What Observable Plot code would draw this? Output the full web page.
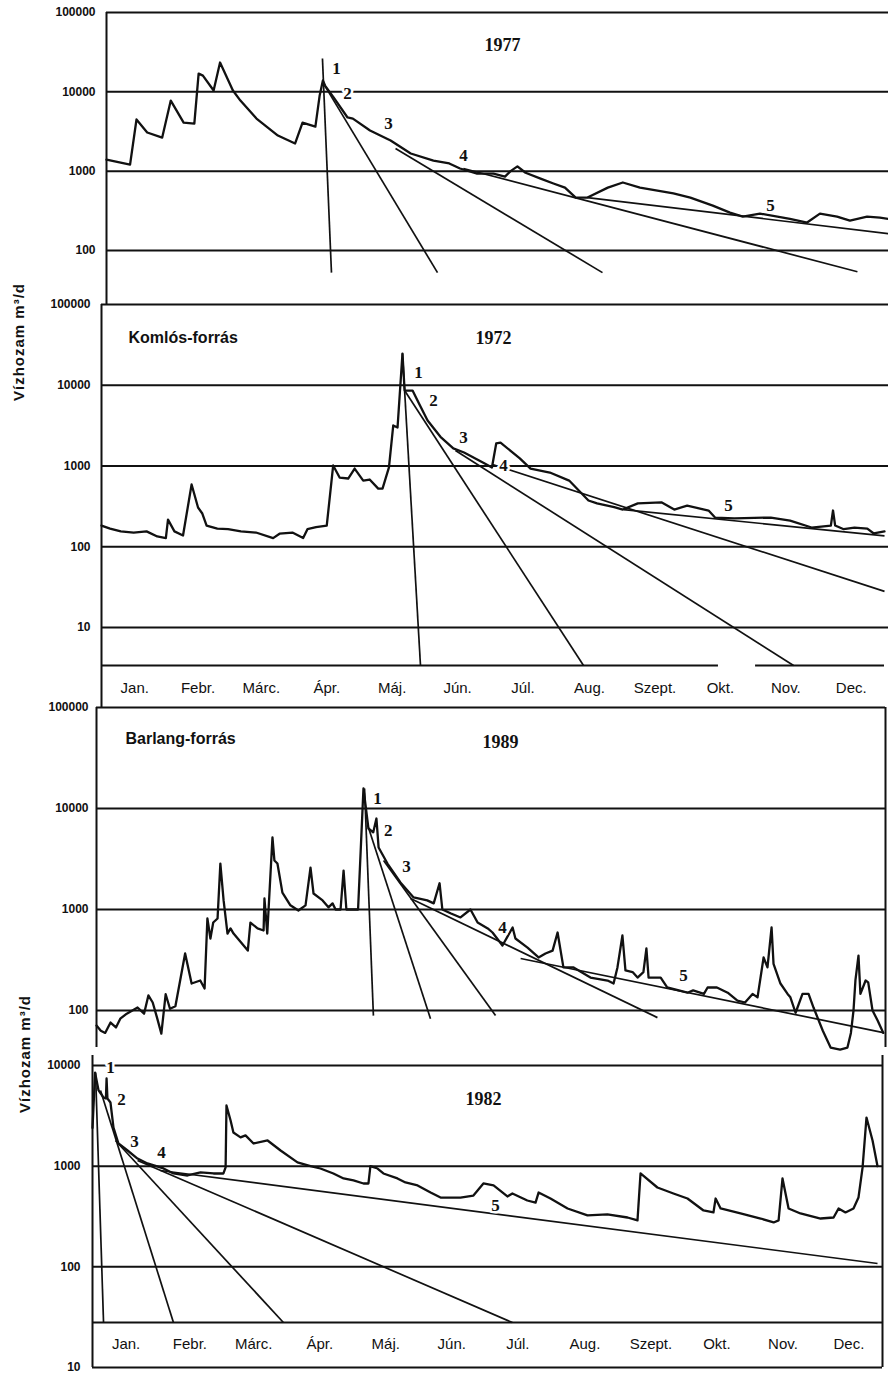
<!DOCTYPE html>
<html><head><meta charset="utf-8">
<script src="https://cdn.jsdelivr.net/npm/d3@7"></script>
<script src="https://cdn.jsdelivr.net/npm/@observablehq/plot@0.6"></script>
<style>
html,body{margin:0;padding:0;background:#fff;}
#chart{position:relative;width:888px;height:1373px;overflow:hidden;background:#fff;}
#chart svg{position:absolute;left:0;}
.ytitle{position:absolute;font:bold 15px "Liberation Sans",Arial,sans-serif;letter-spacing:1px;transform:translate(-50%,-50%) rotate(-90deg);white-space:nowrap;color:#111}
</style></head><body><div id="chart"></div>
<script>
// ---------- DATA ----------
const months = ["Jan.","Febr.","Márc.","Ápr.","Máj.","Jún.","Júl.","Aug.","Szept.","Okt.","Nov.","Dec."];
const monthMid = [15.5,45,74.5,105,135.5,166,196.5,227.5,258,288.5,319,349.5];

const ticks1977 = [100,1000,10000,100000];
const ticks1972 = [10,100,1000,10000,100000];
const ticks1989 = [100,1000,10000,100000];
const ticks1982 = [10,100,1000,10000];

// hydrographs: [day of year, discharge m3/d]
const q1977 = [[0,1400],[11,1210],[14,4480],[19,3070],[26,2650],[30,7760],[36,4100],[41,3980],[43,17000],[45,16000],[50,10400],[53,23400],[59,10400],[62.5,7760],[70,4600],[80,2810],[88,2230],[91.5,4100],[97.5,3650],[99.5,9000],[101,13900],[102,12000],[106,8500],[112.5,4750],[115,4600],[123,3250],[132.6,2430],[142,1670],[152.6,1360],[160,1250],[165,1080],[173,930],[180.6,930],[186,855],[188.6,1000],[191.8,1150],[195.6,955],[202.6,807],[208.6,700],[214,620],[219,465],[224.5,465],[234,620],[241,720],[249,620],[264.6,525],[272.5,465],[283,368],[291,300],[297,268],[305,292],[319,250],[327,225],[333,292],[341,268],[347,238],[355,268],[361,260],[365,250]];

const q1972 = [[0,183],[4,168],[9,155],[15,150],[21,155],[26,134],[30,128],[31,217],[34,155],[38,138],[42,590],[45,306],[47,258],[49,183],[54,168],[59,165],[65,155],[72,150],[80,128],[83,145],[89,150],[94,128],[96,165],[100,175],[105,183],[108,1015],[111,720],[115,700],[118,930],[122,660],[125,680],[129,525],[131,525],[134,960],[136,3180],[138,3000],[140.3,24700],[141.3,8600],[145,8600],[148,5940],[152,3660],[158,2300],[164,1650],[169,1470],[178,1100],[182,960],[184,1900],[186,1950],[195,1240],[200,930],[209,830],[218,660],[227,374],[231,344],[239,310],[243,289],[250,344],[261,355],[267,289],[273,323],[283,281],[286,230],[295,225],[312,230],[321,211],[331,173],[340,183],[341,281],[342,183],[346,165],[351,173],[357,168],[360,146],[365,155]];

const q1989 = [[0,71],[2,63],[4,60],[6.5,76],[9,68],[11,83],[14,93],[19,107],[22,93],[24,141],[26,120],[28,85],[30,59],[32,145],[34,104],[36.5,110],[41,367],[44,185],[48,198],[50,165],[51.3,815],[52.7,516],[54,743],[56,815],[57.3,2850],[58.8,1230],[60.6,578],[62,650],[63.4,578],[70,392],[71.2,743],[74.5,650],[77.3,620],[77.7,1285],[79,578],[81.4,5170],[82.3,3060],[83.7,2850],[86,1470],[89.7,1100],[93.4,977],[96.7,1100],[99,2600],[100.4,1440],[104.6,1230],[107.3,1050],[109.2,1150],[110.6,1000],[112.9,1000],[114.3,2430],[115.6,1000],[121,1000],[123.5,15800],[125.8,6340],[128,5800],[129.5,7960],[130.5,4110],[134.6,2850],[140.6,1850],[146.7,1315],[153,1230],[156,1150],[158.7,1820],[160,1000],[164,912],[168.4,834],[173,1000],[176.3,743],[181,650],[183.2,592],[187.8,440],[192.5,664],[193.8,516],[199.4,420],[204.5,335],[207.7,367],[211,392],[213.3,592],[216,267],[220.7,267],[228.5,212],[236.4,198],[239.2,185],[241,267],[243.3,553],[244.7,250],[248,240],[250.3,212],[253,240],[254.4,411],[255.4,212],[261,212],[264,169],[273.4,150],[276,158],[281,146],[282.7,169],[287,169],[292,150],[296.5,125],[300,120],[303.5,146],[305.8,135],[308.6,335],[310.4,267],[312.3,664],[313.2,290],[316.4,185],[319.7,146],[321,135],[323.4,95],[326.6,146],[329.4,146],[331.7,107],[336,63],[339.6,43],[344,41],[347.4,43],[349,60],[350.2,100],[351.1,200],[352.5,350],[353.4,146],[355.8,198],[357,190],[359,100],[361.3,80],[364,60]];

const q1982 = [[0,2400],[1.2,8500],[2.8,5650],[5.1,4810],[6.2,4700],[6.5,7430],[6.9,4700],[8.3,4290],[9.7,2420],[12,1680],[16.2,1430],[20.8,1190],[25.4,1065],[32.8,950],[37.4,846],[43.9,808],[49.9,866],[55.9,846],[60.5,846],[61.5,971],[61.9,4010],[63.8,2840],[65.1,2160],[68.4,1930],[70.7,2020],[74.4,1680],[80.9,1800],[86.9,1430],[94.7,1090],[100.7,1000],[105.3,948],[111.3,846],[116,755],[120.6,721],[125.2,673],[127.5,673],[128.4,1000],[131.7,948],[134.4,846],[140.9,755],[144.6,689],[150.2,643],[156.2,547],[160.8,488],[170,488],[176,511],[180.6,673],[185.3,643],[191.7,500],[194,535],[200.9,456],[204.7,435],[206.1,547],[211.6,477],[219.5,380],[228.7,324],[237.9,332],[247.2,309],[251.8,289],[253.2,846],[261,614],[268.4,535],[274.9,477],[282.3,363],[286.9,347],[287.9,477],[290.2,380],[299.4,339],[308.7,302],[314.7,276],[317,289],[318.8,755],[321.6,380],[327.1,339],[336.4,302],[342.4,309],[344.7,380],[347.9,347],[351.6,380],[353.9,488],[355.8,971],[357.6,3040],[360.4,1800],[362.7,1000]];

// recession lines (straight on log scale): start day/discharge -> end day/discharge
const rec1977 = [{d1:100.8,q1:26300,d2:105,q2:52.6},{d1:101.3,q1:12700,d2:154.5,q2:52.6},{d1:134.9,q1:1930,d2:231.5,q2:52.6},{d1:166.6,q1:1080,d2:350.5,q2:54},{d1:224.5,q1:465,d2:365,q2:163}];
const rec1972 = [{d1:140.3,q1:24700,d2:148.7,q2:3.38},{d1:141.3,q1:8600,d2:224.7,q2:3.38},{d1:165,q1:1555,d2:322.6,q2:3.38},{d1:182.3,q1:1045,d2:365,q2:28},{d1:243.4,q1:289,d2:365,q2:136}];
const rec1989 = [{d1:124,q1:15800,d2:128.1,q2:89},{d1:125.8,q1:6490,d2:154.5,q2:83},{d1:132.8,q1:3060,d2:184.6,q2:89},{d1:145.3,q1:1285,d2:259.5,q2:85},{d1:196.2,q1:327,d2:364,q2:60.5}];
const rec1982 = [{d1:1.4,q1:8520,d2:5.1,q2:28},{d1:3.7,q1:5650,d2:37.4,q2:28},{d1:10.6,q1:1800,d2:88.2,q2:28},{d1:20.8,q1:1140,d2:194,q2:28},{d1:31.4,q1:906,d2:362.7,q2:108}];

// lower reference lines
const base1972 = [{q:3.38,d1:0,d2:287.6},{q:3.38,d1:304.9,d2:365}];
const base1982 = [{q:28,d1:0,d2:365}];

// recession component labels
const lab1977 = [{t:"1",d:107.4,q:19700},{t:"2",d:112.5,q:9520},{t:"3",d:131.6,q:3980},{t:"4",d:166.6,q:1570},{t:"5",d:309.9,q:368}];
const lab1972 = [{t:"1",d:147.8,q:14400},{t:"2",d:154.8,q:6480},{t:"3",d:168.8,q:2250},{t:"4",d:187.4,q:1015},{t:"5",d:292.3,q:324}];
const lab1989 = [{t:"1",d:130,q:12560},{t:"2",d:135,q:6060},{t:"3",d:143.4,q:2670},{t:"4",d:187.8,q:664},{t:"5",d:271.6,q:222}];
const lab1982 = [{t:"1",d:8.3,q:9550},{t:"2",d:13.4,q:4600},{t:"3",d:19.4,q:1760},{t:"4",d:31.9,q:1370},{t:"5",d:186.2,q:407}];

const year1977 = [{t:"1977",d:184.8,q:38400}];
const year1972 = [{t:"1972",d:182.7,q:37900}];
const year1989 = [{t:"1989",d:186.9,q:45000}];
const year1982 = [{t:"1982",d:180.6,q:4600}];
const name1972 = [{t:"Komlós-forrás",d:12.6,q:39000}];
const name1989 = [{t:"Barlang-forrás",d:13.4,q:49300}];

const yTitle = "Vízhozam m³/d";

// ---------- DRAWING ----------
const ink = "#111";
const sans = "'Liberation Sans', Arial, sans-serif";
const serif = "'Liberation Serif', 'Times New Roman', serif";
const chart = document.getElementById("chart");

function panel(o) {
  const marks = [
    Plot.ruleY(o.grid, {stroke: ink, strokeWidth: 2}),
    Plot.ruleX([0], {stroke: ink, strokeWidth: 2})
  ];
  if (o.rightFrame) marks.push(Plot.ruleX([365], {stroke: ink, strokeWidth: 2}));
  if (o.base) marks.push(Plot.ruleY(o.base, {y: "q", x1: "d1", x2: "d2", stroke: ink, strokeWidth: 2}));
  marks.push(
    Plot.link(o.rec, {x1: "d1", y1: "q1", x2: "d2", y2: "q2", stroke: ink, strokeWidth: 1.7}),
    Plot.line(o.hydro, {x: d => d[0], y: d => d[1], stroke: ink, strokeWidth: 2.3, strokeLinejoin: "round"}),
    Plot.text(o.ticks, {y: d => d, text: d => String(d), frameAnchor: "left", textAnchor: "end", dx: o.tickDx,
      fontFamily: sans, fontWeight: "bold", fontSize: 12, fill: ink, ariaLabel: "ticklabel"}),
    Plot.text(o.labels, {x: "d", y: "q", text: "t", fontFamily: serif, fontSize: 17, fontWeight: "bold",
      fill: ink, stroke: "white", strokeWidth: 5}),
    Plot.text(o.year, {x: "d", y: "q", text: "t", fontFamily: serif, fontSize: 18, fontWeight: "bold", fill: ink})
  );
  if (o.name) marks.push(Plot.text(o.name, {x: "d", y: "q", text: "t", textAnchor: "start", fontFamily: sans,
    fontSize: 16, fontWeight: "bold", fill: ink, ariaLabel: "stationname"}));
  if (o.monthDy) marks.push(Plot.text(months, {x: (d, i) => monthMid[i], text: d => d, frameAnchor: "bottom",
    dy: o.monthDy, fontFamily: sans, fontSize: 15, fill: ink, ariaLabel: "month"}));
  const svg = Plot.plot({
    width: 888, height: o.height,
    marginLeft: o.x0, marginRight: 888 - o.frameRight, marginTop: o.mt, marginBottom: o.mb,
    x: {domain: [0, 365], range: [o.x0, o.xr], axis: null},
    y: {type: "log", domain: o.yDomain, range: o.yRange, axis: null},
    style: {background: "transparent", overflow: "visible"},
    marks
  });
  svg.style.top = o.top + "px";
  d3.select(svg).selectAll('g[aria-label="month"] text').style("letter-spacing", "1.5px");
  d3.select(svg).selectAll('g[aria-label="ticklabel"] text').style("letter-spacing", "0.6px");
  d3.select(svg).selectAll('g[aria-label="stationname"] text').style("letter-spacing", "0.8px");
  chart.appendChild(svg);
}

panel({top: 0, height: 305, x0: 106, xr: 888, frameRight: 888, mt: 12, mb: 0,
  yDomain: [100, 100000], yRange: [250, 12], grid: ticks1977, ticks: ticks1977, tickDx: -11,
  hydro: q1977, rec: rec1977, labels: lab1977, year: year1977});

panel({top: 300, height: 410, x0: 101, xr: 884, frameRight: 888, mt: 4, mb: 3,
  yDomain: [10, 100000], yRange: [327, 4], grid: ticks1972, ticks: ticks1972, tickDx: -11,
  hydro: q1972, rec: rec1972, labels: lab1972, year: year1972, name: name1972, base: base1972, monthDy: -15});

panel({top: 705, height: 350, x0: 96, xr: 885, frameRight: 885, mt: 2, mb: 8, rightFrame: true,
  yDomain: [100, 100000], yRange: [305, 2], grid: ticks1989, ticks: ticks1989, tickDx: -8,
  hydro: q1989, rec: rec1989, labels: lab1989, year: year1989, name: name1989});

panel({top: 1050, height: 323, x0: 92, xr: 882, frameRight: 882, mt: 5, mb: 6, rightFrame: true,
  yDomain: [10, 10000], yRange: [317, 15], grid: ticks1982, ticks: ticks1982, tickDx: -12,
  hydro: q1982, rec: rec1982, labels: lab1982, year: year1982, base: base1982, monthDy: -19});

for (const [x, y] of [[18, 342], [24, 1054]]) {
  const div = document.createElement("div");
  div.className = "ytitle";
  div.textContent = yTitle;
  div.style.left = x + "px";
  div.style.top = y + "px";
  chart.appendChild(div);
}
</script></body></html>
